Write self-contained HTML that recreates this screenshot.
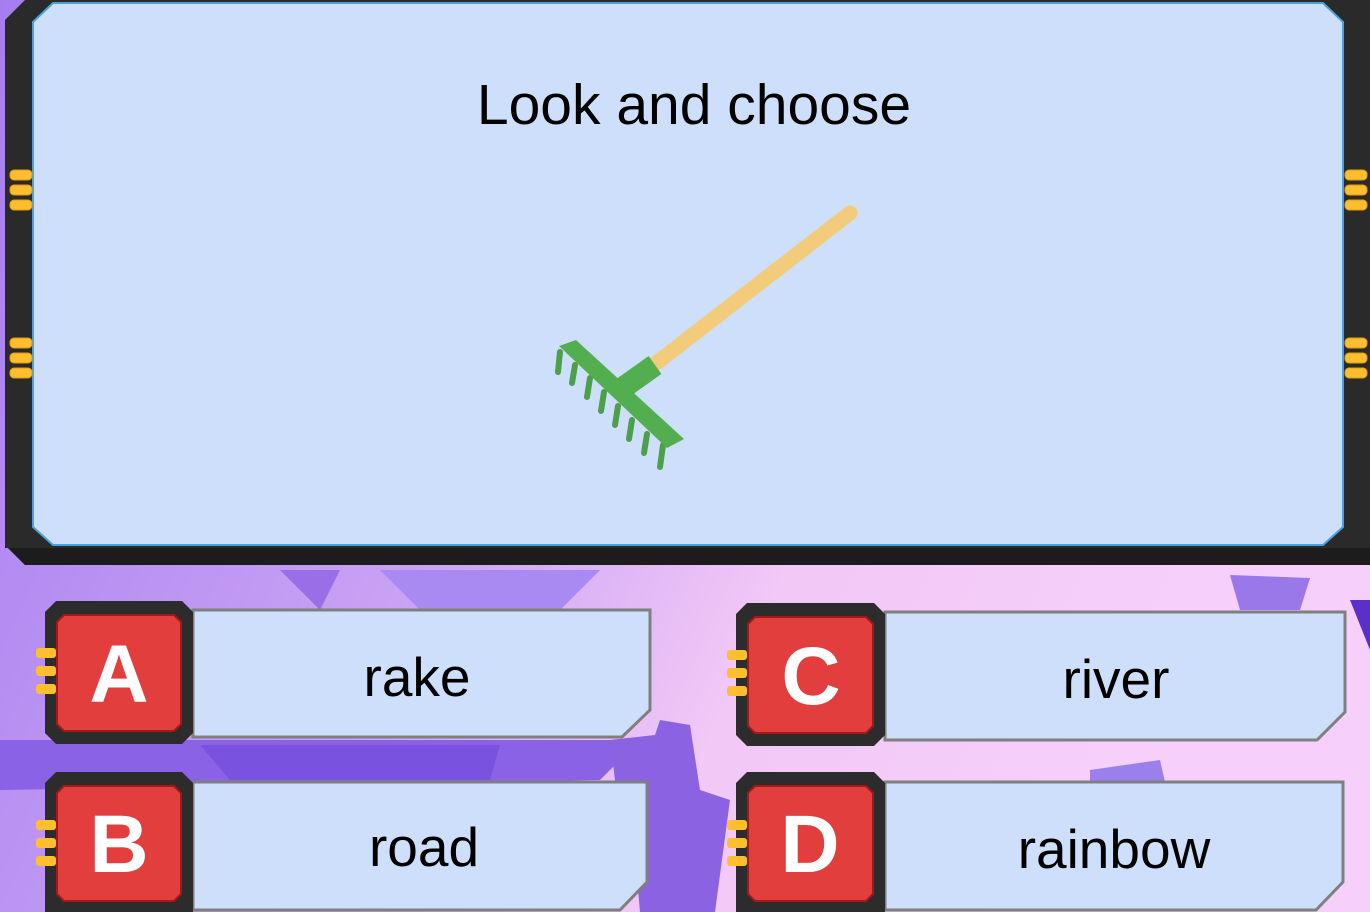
<!DOCTYPE html>
<html><head><meta charset="utf-8"><style>
html,body{margin:0;padding:0;width:1370px;height:912px;overflow:hidden;}
svg{display:block}
text{font-family:"Liberation Sans",sans-serif;}
</style></head><body>
<svg width="1370" height="912" viewBox="0 0 1370 912" xmlns="http://www.w3.org/2000/svg">
<defs>
<linearGradient id="bg" x1="0" y1="0" x2="1" y2="0.3">
<stop offset="0" stop-color="#a67df0"/><stop offset="0.45" stop-color="#c9a2f4"/><stop offset="0.7" stop-color="#f2c8f6"/><stop offset="1" stop-color="#f6d0fa"/>
</linearGradient>
</defs>
<rect width="1370" height="912" fill="url(#bg)"/>
<polygon points="280,570 340,570 320,610" fill="#9a6ee6"/>
<polygon points="380,570 600,570 560,610 420,610" fill="#a98af2"/>
<polygon points="0,740 640,740 600,780 0,790" fill="#8a62e6"/>
<polygon points="200,745 500,745 490,780 230,780" fill="#7a52e0"/>
<polygon points="1230,575 1310,578 1300,610 1240,610" fill="#9a78ea"/>
<polygon points="610,740 655,735 660,720 690,725 700,790 730,800 715,912 640,912 630,800 615,780" fill="#8a62e2"/>
<polygon points="1350,600 1370,600 1370,650" fill="#5a30c8"/>
<polygon points="1090,770 1160,760 1165,782 1090,782" fill="#9a80ea"/>
<!-- main frame -->
<polygon points="5,20 25,0 1370,0 1370,565 25,565 5,545" fill="#2a2a2a"/>
<polygon points="5,545 25,565 1370,565 1370,548 5,548" fill="#1c1c1c"/>
<polygon points="33,22 53,3 1323,3 1343,22 1343,527 1323,545 53,545 33,527" fill="#cddffb" stroke="#4aa3d8" stroke-width="2"/>
<g fill="#ffbe2e" stroke="#e09a10" stroke-width="1">
<rect x="10" y="170" width="22" height="10" rx="4"/><rect x="10" y="185" width="22" height="10" rx="4"/><rect x="10" y="200" width="22" height="10" rx="4"/>
<rect x="10" y="338" width="22" height="10" rx="4"/><rect x="10" y="353" width="22" height="10" rx="4"/><rect x="10" y="368" width="22" height="10" rx="4"/>
<rect x="1345" y="170" width="22" height="10" rx="4"/><rect x="1345" y="185" width="22" height="10" rx="4"/><rect x="1345" y="200" width="22" height="10" rx="4"/>
<rect x="1345" y="338" width="22" height="10" rx="4"/><rect x="1345" y="353" width="22" height="10" rx="4"/><rect x="1345" y="368" width="22" height="10" rx="4"/>
</g>
<text x="694" y="124" font-size="57" text-anchor="middle" fill="#000">Look and choose</text>
<!-- rake -->
<line x1="650" y1="368" x2="850" y2="213" stroke="#f2cc7a" stroke-width="15" stroke-linecap="round"/>
<line x1="620" y1="390" x2="655" y2="365" stroke="#52ae4e" stroke-width="22"/>
<g stroke="#4ba048" stroke-width="6" stroke-linecap="round">
<line x1="560" y1="352" x2="558" y2="372"/><line x1="575" y1="365" x2="572" y2="383"/><line x1="590" y1="378" x2="587" y2="397"/><line x1="604" y1="392" x2="601" y2="411"/><line x1="618" y1="406" x2="615" y2="425"/><line x1="632" y1="420" x2="629" y2="439"/><line x1="647" y1="434" x2="644" y2="453"/><line x1="663" y1="445" x2="660" y2="467"/>
</g>
<polygon points="559,346 576,340 684,439 667,448" fill="#52ae4e"/>
<!-- answers -->
<g>
<polygon points="193,610 650,610 650,710 622,737 193,737" fill="#cddffb" stroke="#7f7f7f" stroke-width="3"/>
<polygon points="45,612 56,601 182,601 193,612 193,733 182,744 56,744 45,733" fill="#2c2c2c"/>
<polygon points="57,622 64,615 174,615 181,622 181,724 174,731 64,731 57,724" fill="#e23e3e" stroke="#a51818" stroke-width="2"/>
<g fill="#ffbe2e"><rect x="36" y="648" width="20" height="10" rx="3"/><rect x="36" y="666" width="20" height="10" rx="3"/><rect x="36" y="684" width="20" height="10" rx="3"/></g>
<text x="119" y="702" font-size="82" font-weight="bold" fill="#fff" text-anchor="middle">A</text>
<text x="417" y="696" font-size="55" fill="#000" text-anchor="middle">rake</text>
</g>
<g>
<polygon points="885,612 1345,612 1345,712 1317,740 885,740" fill="#cddffb" stroke="#7f7f7f" stroke-width="3"/>
<polygon points="736,614 747,603 874,603 885,614 885,735 874,746 747,746 736,735" fill="#2c2c2c"/>
<polygon points="748,624 755,617 866,617 873,624 873,726 866,733 755,733 748,726" fill="#e23e3e" stroke="#a51818" stroke-width="2"/>
<g fill="#ffbe2e"><rect x="727" y="650" width="20" height="10" rx="3"/><rect x="727" y="668" width="20" height="10" rx="3"/><rect x="727" y="686" width="20" height="10" rx="3"/></g>
<text x="811" y="704" font-size="82" font-weight="bold" fill="#fff" text-anchor="middle">C</text>
<text x="1116" y="698" font-size="55" fill="#000" text-anchor="middle">river</text>
</g>
<g>
<polygon points="193,782 647,782 647,882 620,910 193,910" fill="#cddffb" stroke="#7f7f7f" stroke-width="3"/>
<polygon points="45,783 56,772 182,772 193,783 193,912 45,912" fill="#2c2c2c"/>
<polygon points="57,793 64,786 174,786 181,793 181,894 174,901 64,901 57,894" fill="#e23e3e" stroke="#a51818" stroke-width="2"/>
<g fill="#ffbe2e"><rect x="36" y="820" width="20" height="10" rx="3"/><rect x="36" y="838" width="20" height="10" rx="3"/><rect x="36" y="856" width="20" height="10" rx="3"/></g>
<text x="119" y="872" font-size="82" font-weight="bold" fill="#fff" text-anchor="middle">B</text>
<text x="424" y="866" font-size="55" fill="#000" text-anchor="middle">road</text>
</g>
<g>
<polygon points="885,782 1343,782 1343,882 1316,910 885,910" fill="#cddffb" stroke="#7f7f7f" stroke-width="3"/>
<polygon points="736,783 747,772 874,772 885,783 885,912 736,912" fill="#2c2c2c"/>
<polygon points="748,793 755,786 866,786 873,793 873,894 866,901 755,901 748,894" fill="#e23e3e" stroke="#a51818" stroke-width="2"/>
<g fill="#ffbe2e"><rect x="727" y="820" width="20" height="10" rx="3"/><rect x="727" y="838" width="20" height="10" rx="3"/><rect x="727" y="856" width="20" height="10" rx="3"/></g>
<text x="810" y="872" font-size="82" font-weight="bold" fill="#fff" text-anchor="middle">D</text>
<text x="1114" y="868" font-size="55" fill="#000" text-anchor="middle">rainbow</text>
</g>
</svg>
</body></html>
